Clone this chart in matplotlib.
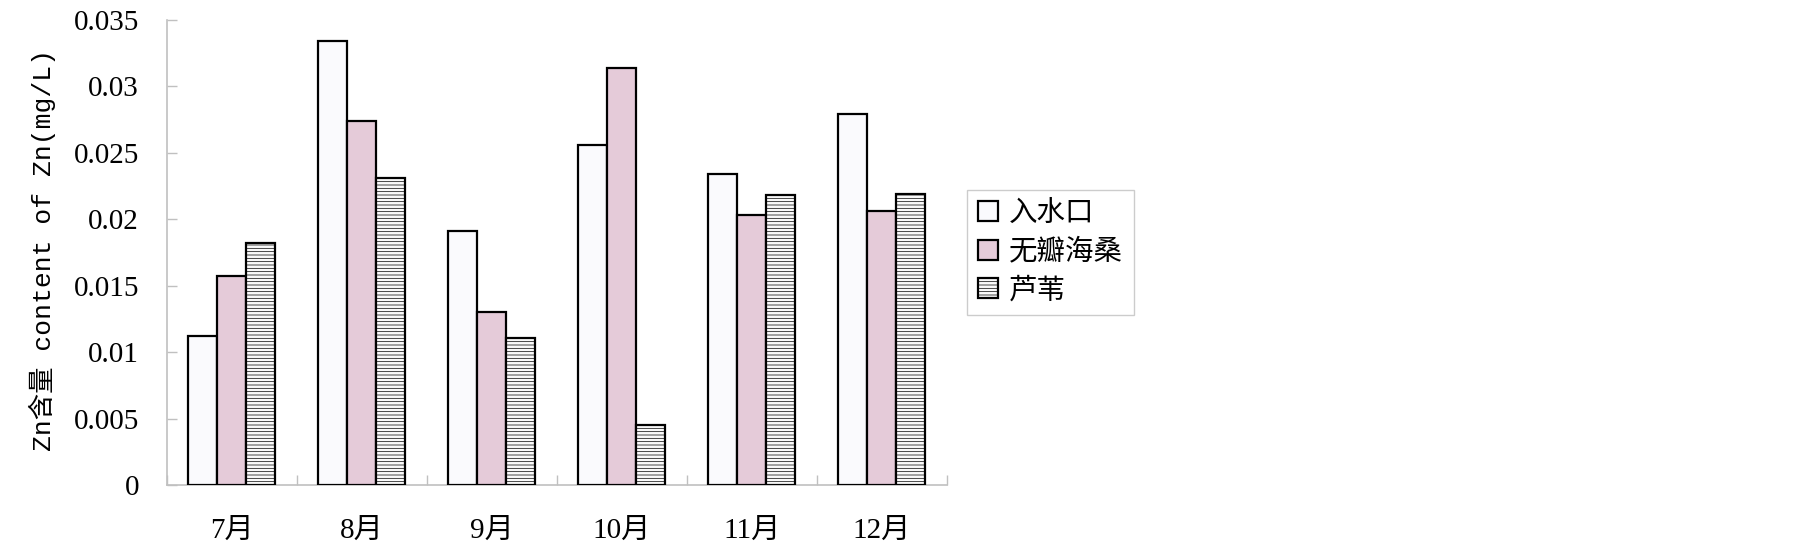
import matplotlib
matplotlib.use("Agg")
import matplotlib.pyplot as plt
import numpy as np

plt.rcParams['font.family'] = ['Liberation Serif', 'Noto Sans CJK SC']
plt.rcParams['hatch.color'] = '#cfcfcf'
plt.rcParams['hatch.linewidth'] = 0.5

months = ['7月', '8月', '9月', '10月', '11月', '12月']
series_names = ['入水口', '无瓣海桑', '芦苇']
inlet = [0.0112, 0.0334, 0.0191, 0.0256, 0.0234, 0.0279]
sonneratia = [0.0157, 0.0274, 0.0130, 0.0314, 0.0203, 0.0206]
reed = [0.0182, 0.0231, 0.0111, 0.0045, 0.0218, 0.0219]
yticks = [0, 0.005, 0.01, 0.015, 0.02, 0.025, 0.03, 0.035]
ytick_labels = ['0', '0.005', '0.01', '0.015', '0.02', '0.025', '0.03', '0.035']

fig = plt.figure(figsize=(18.05, 5.53), dpi=100)
ax = fig.add_axes([166.7/1805, 1-485/553, (946.7-166.7)/1805, (485-20)/553])

x = np.arange(len(months))
w = 0.223
styles = [
    dict(facecolor='#fafafd', hatch=None),
    dict(facecolor='#e5cbd9', hatch=None),
    dict(facecolor='#fafafa', hatch='-----'),
]
for i, (vals, name, st) in enumerate(zip([inlet, sonneratia, reed], series_names, styles)):
    ax.bar(x + (i - 1) * w, vals, width=w, facecolor=st['facecolor'], hatch=st['hatch'],
           edgecolor='black', linewidth=1.6, label=name, zorder=3)

ax.set_xlim(-0.5, len(months) - 0.5)
ax.set_ylim(0, 0.035)
ax.set_yticks(yticks)
ax.set_yticklabels(ytick_labels, fontsize=21)
ax.set_xticks(np.arange(len(months) + 1) - 0.5)
ax.set_xticklabels([''] * (len(months) + 1))
ax.set_xticks(x, months, minor=True)
ax.tick_params(axis='x', which='minor', length=0, pad=24, labelsize=21)
ax.tick_params(axis='x', which='major', direction='in', length=7, color='#c0c0c0', width=1)
ax.tick_params(axis='y', direction='in', length=7, color='#c0c0c0', width=1, pad=20)

for s in ['top', 'right']:
    ax.spines[s].set_visible(False)
for s in ['left', 'bottom']:
    ax.spines[s].set_color('#c0c0c0')
    ax.spines[s].set_linewidth(1.2)

fig.text(42/1805, 1-250/553, 'Zn含量 content of Zn(mg/L)', rotation=90, fontsize=19,
         family=['Liberation Mono', 'Noto Sans CJK SC'], ha='center', va='center')

leg = fig.legend(loc='upper left', bbox_to_anchor=(967/1805, 1-190/553),
                 bbox_transform=fig.transFigure, fontsize=20.5, frameon=True, fancybox=False,
                 edgecolor='#c0c0c0', borderaxespad=0, handlelength=0.7, handleheight=0.7,
                 handletextpad=0.4, labelspacing=0.42, borderpad=0.38)
leg.get_frame().set_linewidth(1.0)

fig.savefig('out.png', dpi=100)
